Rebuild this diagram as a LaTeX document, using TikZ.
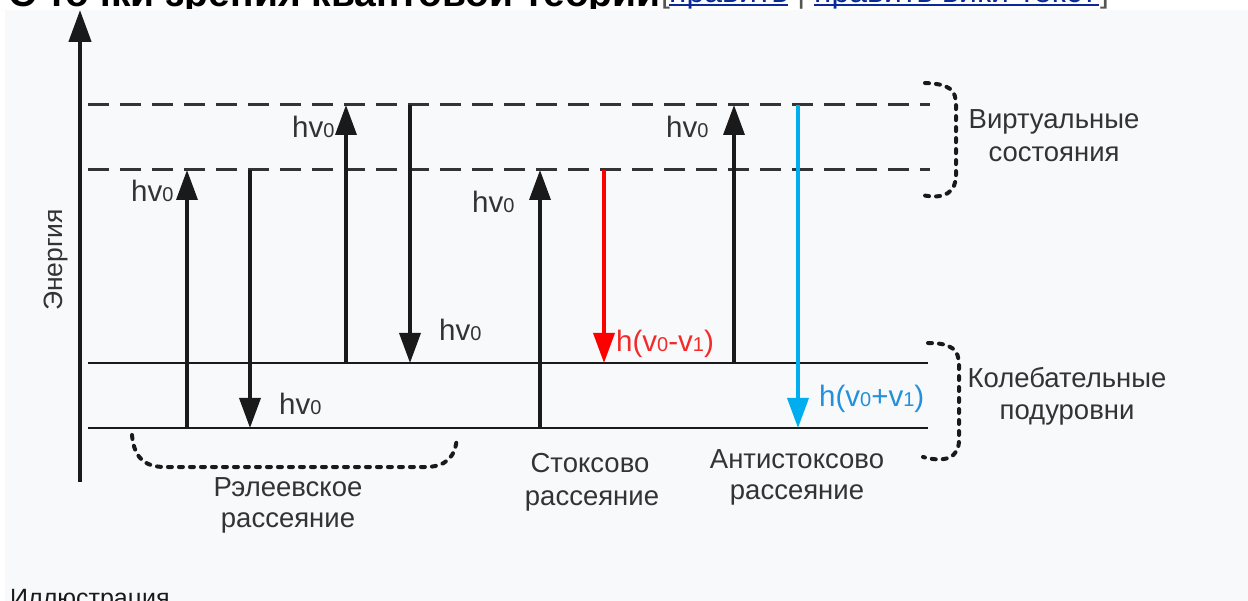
\documentclass[tikz,border=0pt]{standalone}
\usepackage{fontspec}
\setmainfont{Liberation Sans}
\usetikzlibrary{arrows.meta}
\definecolor{bg}{HTML}{F8F9FA}
\definecolor{ink}{HTML}{1A1A1A}
\definecolor{txt}{HTML}{333333}
\definecolor{dashc}{HTML}{333333}
\definecolor{stokes}{HTML}{FF0000}
\definecolor{stokestxt}{HTML}{F42A2A}
\definecolor{anti}{HTML}{00AEEF}
\definecolor{antitxt}{HTML}{2390DC}
\definecolor{linkc}{HTML}{0B2A9A}
\definecolor{brk}{HTML}{555555}
\newcommand\sbs[1]{{\fontsize{20pt}{20pt}\selectfont #1}}
\begin{document}
\begin{tikzpicture}[x=1pt,y=-1pt,
  trans/.style={line width=3.5pt, ink, -{Triangle[width=21pt,length=30pt]}},
  level/.style={line width=2.5pt, ink},
  virt/.style={line width=3pt, dashc, dash pattern=on 21pt off 11pt},
  brace/.style={line width=4pt, ink, line cap=round, dash pattern=on 4pt off 7pt},
  lbl/.style={font=\fontsize{29.5pt}{29.5pt}\selectfont, text=txt, inner sep=0pt, anchor=base west},
  desc/.style={font=\fontsize{27.5pt}{27.5pt}\selectfont, text=txt, inner sep=0pt, anchor=base},
]
\useasboundingbox (0,0) rectangle (1248,601);
\fill[bg] (5,10) rectangle (1248,601);

% clipped heading at the top
\begin{scope}
\clip (0,0) rectangle (1248,9);
\node[anchor=base west, inner sep=0pt, font=\bfseries\fontsize{39pt}{39pt}\selectfont] (head) at (8,6.5) {С точки зрения квантовой теории};
\node[anchor=base west, inner sep=0pt, font=\fontsize{32pt}{32pt}\selectfont, text=brk] (lb) at (661,3) {[};
\node[anchor=base west, inner sep=0pt, font=\fontsize{32pt}{32pt}\selectfont, text=linkc] (l1) at (669,3) {править};
\node[anchor=base west, inner sep=0pt, font=\fontsize{32pt}{32pt}\selectfont, text=brk] (bar) at (797,3) {|};
\node[anchor=base west, inner sep=0pt, font=\fontsize{32pt}{32pt}\selectfont, text=linkc] (l2) at (814,3) {править вики-текст};
\node[anchor=base west, inner sep=0pt, font=\fontsize{32pt}{32pt}\selectfont, text=brk] (rb) at (1100,3) {]};
\fill[linkc] (669,4) rectangle (788,6.5);
\fill[linkc] (814,4) rectangle (1099,6.5);
\end{scope}

% clipped caption at the bottom
\begin{scope}
\clip (0,560) rectangle (1248,601);
\node[anchor=base west, inner sep=0pt, font=\fontsize{25pt}{25pt}\selectfont, text=ink] (cap) at (10,606) {Иллюстрация};
\end{scope}

% energy axis
\coordinate (e0) at (80,482);
\coordinate (e1) at (80,10);
\draw[line width=4.5pt, ink, -{Triangle[width=22pt,length=32pt]}] (e0) -- (e1);
\node[desc, rotate=90, anchor=center, font=\fontsize{26.5pt}{26.5pt}\selectfont] (energy) at (56,260) {Энергия};

% levels
\coordinate (v2l) at (88,105);  \coordinate (v2r) at (930,105);
\coordinate (v1l) at (88,170);  \coordinate (v1r) at (930,170);
\coordinate (g1l) at (88,363);  \coordinate (g1r) at (928,363);
\coordinate (g0l) at (88,428);  \coordinate (g0r) at (928,428);
\draw[virt] (v2l) -- (v2r);
\draw[virt] (v1l) -- (v1r);
\draw[level] (g1l) -- (g1r);
\draw[level] (g0l) -- (g0r);

% transitions
\coordinate (a1s) at (187,428); \coordinate (a1e) at (187,170);
\coordinate (a2s) at (250,170); \coordinate (a2e) at (250,428);
\coordinate (a3s) at (346,363); \coordinate (a3e) at (346,105);
\coordinate (a4s) at (410,105); \coordinate (a4e) at (410,363);
\coordinate (a5s) at (540,428); \coordinate (a5e) at (540,170);
\coordinate (a6s) at (604,170); \coordinate (a6e) at (604,363);
\coordinate (a7s) at (734,363); \coordinate (a7e) at (734,105);
\coordinate (a8s) at (798,105); \coordinate (a8e) at (798,428);
\draw[trans] (a1s) -- (a1e);
\draw[trans] (a2s) -- (a2e);
\draw[trans] (a3s) -- (a3e);
\draw[trans] (a4s) -- (a4e);
\draw[trans] (a5s) -- (a5e);
\draw[trans, stokes] (a6s) -- (a6e);
\draw[trans] (a7s) -- (a7e);
\draw[trans, anti] (a8s) -- (a8e);

% labels
\node[lbl] (h1) at (131,202) {hv\sbs{0}};
\node[lbl] (h2) at (279,415) {hv\sbs{0}};
\node[lbl] (h3) at (292,138) {hv\sbs{0}};
\node[lbl] (h4) at (439,341) {hv\sbs{0}};
\node[lbl] (h5) at (472,213) {hv\sbs{0}};
\node[lbl] (h7) at (666,138) {hv\sbs{0}};
\node[lbl, text=stokestxt] (hs) at (616,352) {h(v\sbs{0}-v\sbs{1})};
\node[lbl, text=antitxt] (ha) at (819,407) {h(v\sbs{0}+v\sbs{1})};

% braces
\draw[brace] (925,83) .. controls (950,84) and (956,90) .. (956,105) -- (956,175) .. controls (956,192) and (945,200) .. (922,195);
\draw[brace] (928,343) .. controls (952,343) and (959,350) .. (959,365) -- (959,440) .. controls (959,458) and (945,463) .. (923,457);
\draw[brace] (132,435) .. controls (134,458) and (145,467) .. (165,467) -- (425,467) .. controls (445,467) and (456,458) .. (457,436);

% descriptions
\node[desc] (virtA) at (1054,129) {Виртуальные};
\node[desc] (virtB) at (1054,162) {состояния};
\node[desc] (vibA) at (1067,388) {Колебательные};
\node[desc] (vibB) at (1067,420) {подуровни};
\node[desc] (rayA) at (288,496) {Рэлеевское};
\node[desc] (rayB) at (288,527) {рассеяние};
\node[desc] (stA) at (590,472) {Стоксово};
\node[desc] (stB) at (592,505) {рассеяние};
\node[desc] (asA) at (797,468) {Антистоксово};
\node[desc] (asB) at (797,500) {рассеяние};
\end{tikzpicture}
\end{document}
